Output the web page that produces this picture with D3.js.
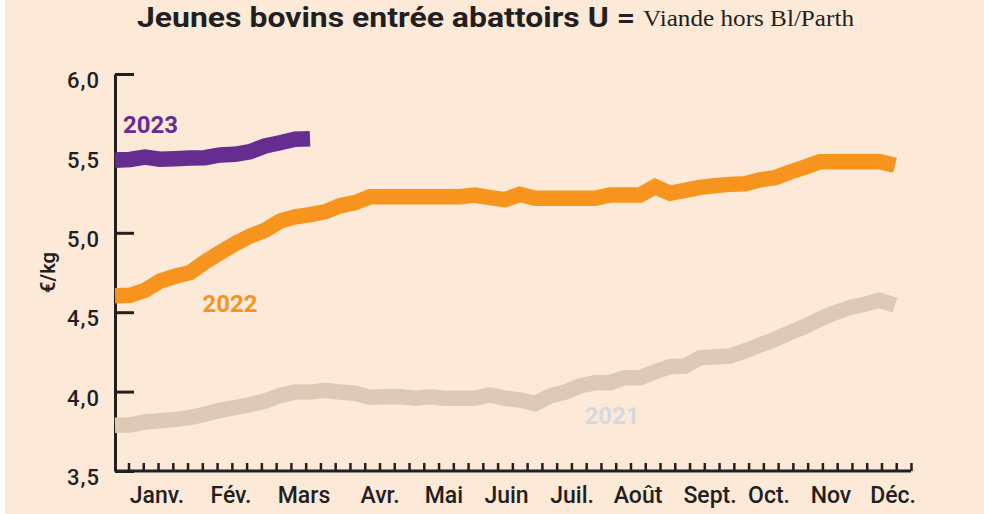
<!DOCTYPE html>
<html><head><meta charset="utf-8">
<script src="https://cdn.jsdelivr.net/npm/d3@7"></script>
<style>body{margin:0;background:#fff}svg{display:block}</style>
</head><body>
<script>
// ---- data ----
const months = ["Janv.","Fév.","Mars","Avr.","Mai","Juin","Juil.","Août","Sept.","Oct.","Nov","Déc."];
const monthWeeks = [2.8, 7.73, 12.6, 17.67, 21.93, 26.1, 30.47, 34.87, 39.67, 43.6, 47.73, 51.87];
const weekTicks = d3.range(54);
const yTicks = [3.5, 4.0, 4.5, 5.0, 5.5, 6.0];
const yTickLabels = ["3,5","4,0","4,5","5,0","5,5","6,0"];
const seriesNames = ["2021","2022","2023"];
const values2021 = [3.788,3.790,3.809,3.817,3.825,3.836,3.857,3.882,3.899,3.917,3.941,3.976,3.997,3.997,4.008,3.997,3.990,3.965,3.968,3.968,3.958,3.968,3.958,3.958,3.958,3.979,3.958,3.947,3.925,3.972,3.997,4.035,4.056,4.056,4.088,4.088,4.125,4.157,4.161,4.213,4.218,4.224,4.256,4.293,4.329,4.371,4.410,4.457,4.497,4.530,4.550,4.575,4.545];
const values2022 = [4.604,4.606,4.638,4.696,4.726,4.749,4.816,4.875,4.931,4.980,5.016,5.074,5.101,5.114,5.132,5.170,5.190,5.227,5.227,5.227,5.227,5.227,5.227,5.227,5.238,5.221,5.209,5.242,5.217,5.217,5.217,5.217,5.217,5.238,5.238,5.238,5.290,5.249,5.267,5.286,5.297,5.305,5.309,5.334,5.347,5.383,5.414,5.448,5.448,5.448,5.448,5.448,5.425];
const values2023 = [5.457,5.462,5.477,5.463,5.467,5.471,5.473,5.490,5.494,5.511,5.547,5.567,5.589,5.593];

// ---- drawing ----
const W = 984, H = 514;
const FONT = "Roboto, 'DejaVu Sans', sans-serif";
const INK = "#231F20";
const svg = d3.select("body").append("svg").attr("width", W).attr("height", H);
svg.append("rect").attr("x", 5).attr("y", 0).attr("width", W - 5).attr("height", H).attr("fill", "#FDE9D8");

const x = d3.scaleLinear().domain([0, 52]).range([115, 895]);
const xt = d3.scaleLinear().domain([0, 53]).range([128.5, 911]);
const y = d3.scaleLinear().domain([3.5, 6]).range([471, 74]);

// title
svg.append("text").attr("x", 137).attr("y", 27)
  .attr("font-family", FONT).attr("font-weight", 700).attr("font-size", 28)
  .attr("fill", INK).attr("textLength", 498).attr("lengthAdjust", "spacingAndGlyphs")
  .text("Jeunes bovins entrée abattoirs U =");
svg.append("text").attr("x", 643).attr("y", 26)
  .attr("font-family", "'Liberation Serif', 'DejaVu Serif', serif").attr("font-size", 24)
  .attr("fill", INK).attr("textLength", 211).attr("lengthAdjust", "spacingAndGlyphs")
  .text("Viande hors Bl/Parth");

// y axis
const yAxis = d3.axisLeft(y).tickValues(yTicks).tickSize(-19).tickSizeOuter(0).tickPadding(15)
  .tickFormat((d, i) => yTickLabels[i]);
const gy = svg.append("g").attr("transform", `translate(${x.range()[0]},0)`).call(yAxis);
gy.select(".domain").attr("stroke", INK).attr("stroke-width", 3);
gy.selectAll(".tick line").attr("stroke", INK).attr("stroke-width", 3);
gy.selectAll(".tick text").attr("font-family", FONT).attr("font-weight", 500).attr("font-size", 22).attr("fill", INK)
  .attr("dy", "0.62em").attr("letter-spacing", 1);

// y label
svg.append("text").attr("transform", `translate(55,${(y(5) + y(4.5)) / 2}) rotate(-90)`)
  .attr("text-anchor", "middle").attr("font-family", FONT).attr("font-weight", 600)
  .attr("font-size", 20).attr("fill", INK).text("€/kg");

// x axis (weekly ticks)
const xAxis = d3.axisBottom(xt).tickValues(weekTicks).tickSize(-8).tickSizeOuter(0).tickFormat("");
const gx = svg.append("g").attr("transform", `translate(0,${y(3.5)})`).call(xAxis);
gx.select(".domain").remove();
gx.selectAll(".tick line").attr("stroke", INK).attr("stroke-width", 2.5);
gx.append("line").attr("x1", x.range()[0]).attr("x2", xt.range()[1]).attr("y1", 0).attr("y2", 0)
  .attr("stroke", INK).attr("stroke-width", 3);

// month labels
svg.append("g").selectAll("text").data(months).join("text")
  .attr("x", (d, i) => x(monthWeeks[i])).attr("y", 503)
  .attr("text-anchor", "middle").attr("font-family", FONT).attr("font-weight", 500)
  .attr("font-size", 23).attr("fill", INK)
  .text(d => d);

// lines
const line = d3.line().x((d, i) => x(i)).y(d => y(d)).curve(d3.curveLinear);
const seriesData = [values2021, values2022, values2023];
const colors = ["#DDCAB6", "#F7941E", "#662D91"];
svg.append("g").selectAll("path").data(seriesData).join("path")
  .attr("d", line).attr("fill", "none").attr("stroke", (d, i) => colors[i])
  .attr("stroke-width", 15.5).attr("stroke-linejoin", "miter").attr("stroke-linecap", "butt");

// series labels
const labelPos = [[33.13, 3.796], [7.67, 4.501], [2.37, 5.628]];
const labelColors = ["#D5D9DE", "#F7941E", "#662D91"];
svg.append("g").selectAll("text").data(seriesNames).join("text")
  .attr("x", (d, i) => x(labelPos[i][0])).attr("y", (d, i) => y(labelPos[i][1]))
  .attr("text-anchor", "middle").attr("font-family", FONT).attr("font-weight", 700)
  .attr("font-size", 24).attr("fill", (d, i) => labelColors[i]).text(d => d);
</script>
</body></html>
